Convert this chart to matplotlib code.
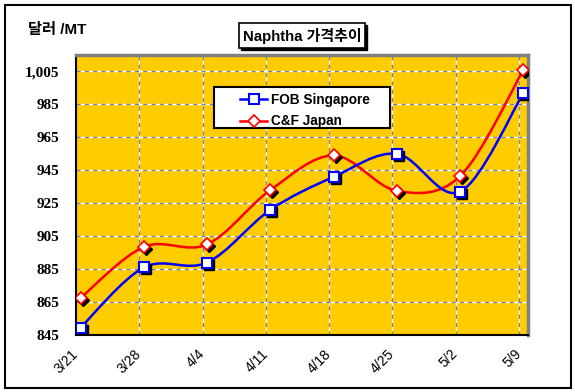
import numpy as np
import matplotlib.pyplot as plt
from matplotlib.path import Path
from matplotlib.patches import PathPatch, Rectangle
from matplotlib.lines import Line2D
from matplotlib.transforms import offset_copy

# data
dates = ["3/21", "3/28", "4/4", "4/11", "4/18", "4/25", "5/2", "5/9"]
days = [0, 7, 14, 21, 28, 35, 42, 49]
fob_singapore = [849.5, 886, 889, 921, 941, 955, 932, 992]
cnf_japan = [867.5, 898.5, 900, 933, 954, 932.5, 941.5, 1006]
y_ticks = [845, 865, 885, 905, 925, 945, 965, 985, 1005]


def smooth_path(x, y):
    # Excel-style smoothed line: cubic Bezier through every point
    pts = np.column_stack([x, y]).astype(float)
    n = len(pts)
    verts = [pts[0]]
    codes = [Path.MOVETO]
    for i in range(n - 1):
        p0 = pts[max(i - 1, 0)]
        p1 = pts[i]
        p2 = pts[i + 1]
        p3 = pts[min(i + 2, n - 1)]
        verts += [p1 + (p2 - p0) / 6, p2 - (p3 - p1) / 6, p2]
        codes += [Path.CURVE4] * 3
    return Path(verts, codes)


W, H = 575, 392
fig = plt.figure(figsize=(W / 100, H / 100), dpi=100)
ax = fig.add_axes([76 / W, 1 - 335 / H, 452 / W, 280 / H])
ax.set_facecolor("#FFCC00")

ax.set_xlim(-0.5, 49.5)
ax.set_ylim(845, 1015)

# gridlines
grid_x = [d - 0.5 for d in days]
grid_y = y_ticks[1:]
ax.vlines(grid_x[1:], 845, 1015, colors="white", lw=1, zorder=1)
ax.vlines(grid_x[1:], 845, 1015, colors="#808080", lw=1, linestyles=(0, (3, 3)), zorder=1.1)
ax.hlines(grid_y, -0.5, 49.5, colors="white", lw=1, zorder=1)
ax.hlines(grid_y, -0.5, 49.5, colors="#808080", lw=1, linestyles=(0, (3, 3)), zorder=1.1)

# smoothed lines
ax.add_patch(PathPatch(smooth_path(days, cnf_japan), fill=False, edgecolor="#FF0000", lw=1.8, zorder=3))
ax.add_patch(PathPatch(smooth_path(days, fob_singapore), fill=False, edgecolor="#0000FF", lw=1.8, zorder=3))

# markers with shadow
shadow = offset_copy(ax.transData, fig=fig, x=2, y=-2, units="dots")
ax.plot(days, cnf_japan, ls="none", marker="D", ms=6.5, mfc="black", mec="black", transform=shadow, zorder=4)
ax.plot(days, cnf_japan, ls="none", marker="D", ms=6.5, mfc="white", mec="#FF0000", mew=1.2, zorder=5)
ax.plot(days, fob_singapore, ls="none", marker="s", ms=7.5, mfc="black", mec="black", transform=shadow, zorder=4)
ax.plot(days, fob_singapore, ls="none", marker="s", ms=7.5, mfc="white", mec="#0000FF", mew=1.5, zorder=5)

# axes styling
for s in ["left", "bottom"]:
    ax.spines[s].set_color("black")
    ax.spines[s].set_linewidth(1.5)
for s in ["top", "right"]:
    ax.spines[s].set_color("#808080")
    ax.spines[s].set_linewidth(2.5)

ax.set_yticks(y_ticks)
ax.set_yticklabels([f"{v:,}" for v in y_ticks], fontfamily="Liberation Serif", fontweight="bold", fontsize=11)
ax.set_xticks(grid_x)
ax.set_xticklabels(dates, rotation=45, ha="right", va="center", rotation_mode="anchor",
                   fontfamily="Liberation Sans", fontsize=10)
ax.tick_params(axis="y", length=0, pad=12)
ax.tick_params(axis="x", length=0, pad=12)

# legend (box drawn separately so it can be wider than its contents)
ax.add_patch(Rectangle((214 / W, 1 - 128 / H), 176 / W, 41 / H, transform=fig.transFigure,
                       facecolor="white", edgecolor="black", lw=1.5, zorder=9))
handles = [
    Line2D([], [], color="#0000FF", lw=1.8, marker="s", ms=7, mfc="white", mec="#0000FF", mew=1.5),
    Line2D([], [], color="#FF0000", lw=1.8, marker="D", ms=6, mfc="white", mec="#FF0000", mew=1.2),
]
leg = ax.legend(handles, ["FOB Singapore", "C&F Japan"], loc="upper left",
                bbox_to_anchor=((240 - 76) / 452, (335 - 93) / 280), frameon=False,
                prop={"family": "Liberation Sans", "weight": "bold", "size": 9.8},
                handlelength=2.0, handletextpad=0.3, borderpad=0, labelspacing=0.55,
                borderaxespad=0)
leg.set_zorder(10)

# title box with shadow
tx0, ty0, tw, th = 239 / W, 1 - 48 / H, 126 / W, 25 / H
fig.patches.append(Rectangle((tx0 + 2 / W, ty0 - 2 / H), tw, th, transform=fig.transFigure,
                             facecolor="black", edgecolor="black", lw=1))
fig.patches.append(Rectangle((tx0, ty0), tw, th, transform=fig.transFigure,
                             facecolor="white", edgecolor="black", lw=1.2))
fig.text(tx0 + tw / 2, ty0 + th / 2, "Naphtha 가격추이", ha="center", va="center",
         family=["Liberation Sans", "Noto Sans CJK KR"], fontweight="bold", fontsize=10.8)

# unit label
fig.text(28 / W, 1 - 30 / H, "달러 /MT", ha="left", va="center",
         family=["Liberation Sans", "Noto Sans CJK KR"], fontweight="bold", fontsize=11)

# outer border
fig.patches.append(Rectangle((5 / W, 4 / H), 566 / W, 383 / H, transform=fig.transFigure,
                             fill=False, edgecolor="black", lw=1.5))

fig.savefig("out.png", dpi=100)
